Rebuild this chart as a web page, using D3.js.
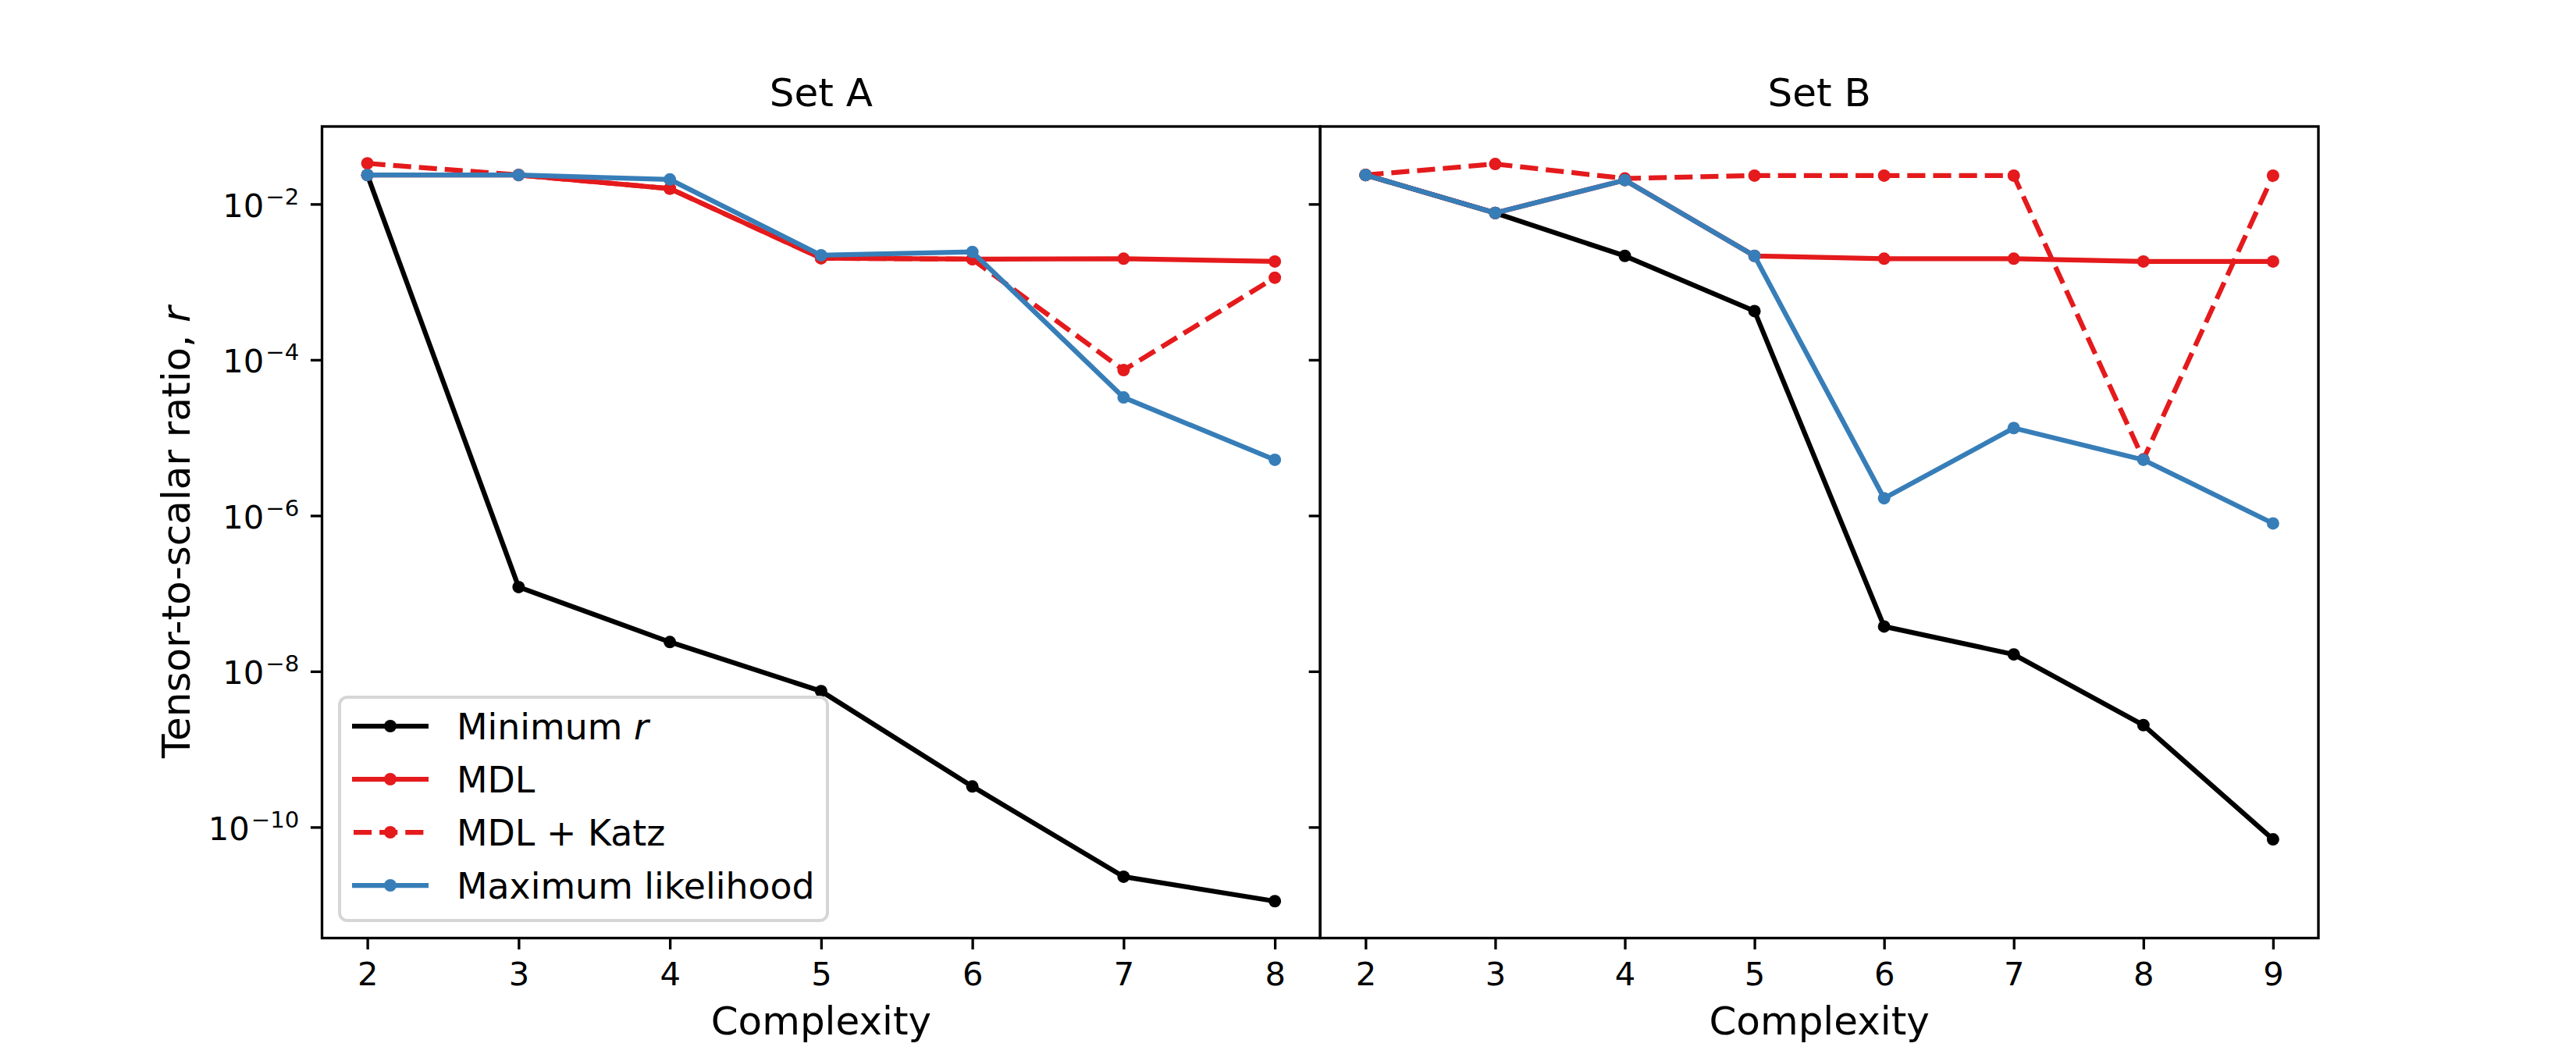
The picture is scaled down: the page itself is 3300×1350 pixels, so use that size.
<!DOCTYPE html>
<html>
<head>
<meta charset="utf-8">
<script src="https://cdn.jsdelivr.net/npm/d3@7"></script>
<style>
  html, body { margin: 0; padding: 0; background: #fff; }
  svg text { font-family: "DejaVu Sans", sans-serif; fill: #000; }
</style>
</head>
<body>
<div id="chart"></div>
<script>
// ── Data ──
const complexityA = [2, 3, 4, 5, 6, 7, 8];
const complexityB = [2, 3, 4, 5, 6, 7, 8, 9];

const minRA = [2.36e-2, 1.21e-7, 2.38e-8, 5.57e-9, 3.33e-10, 2.31e-11, 1.12e-11];
const mdlA = [2.36e-2, 2.36e-2, 1.58e-2, 2.02e-3, 1.96e-3, 1.99e-3, 1.83e-3];
const katzA = [3.33e-2, 2.36e-2, 1.58e-2, 2.02e-3, 1.96e-3, 7.38e-5, 1.135e-3];
const mlA = [2.36e-2, 2.36e-2, 2.07e-2, 2.2e-3, 2.43e-3, 3.29e-5, 5.2e-6];

const minRB = [2.36e-2, 7.69e-3, 2.16e-3, 4.23e-4, 3.77e-8, 1.65e-8, 2.04e-9, 6.97e-11];
const mdlB = [2.36e-2, 7.69e-3, 2.03e-2, 2.16e-3, 1.99e-3, 1.99e-3, 1.83e-3, 1.83e-3];
const katzB = [2.36e-2, 3.27e-2, 2.13e-2, 2.32e-2, 2.32e-2, 2.32e-2, 5.28e-6, 2.32e-2];
const mlB = [2.36e-2, 7.69e-3, 2.03e-2, 2.16e-3, 1.67e-6, 1.33e-5, 5.2e-6, 7.94e-7];

const seriesLabels = ["Minimum", "MDL", "MDL + Katz", "Maximum likelihood"];
const panelTitles = ["Set A", "Set B"];
const yTickExps = [-2, -4, -6, -8, -10];

// ── Styles ──
const PT = 300 / 72;
const STYLE = [
  { color: "#000000", dash: null },
  { color: "#e41a1c", dash: null },
  { color: "#e41a1c", dash: [3.7 * 1.5 * PT, 1.6 * 1.5 * PT].join(",") },
  { color: "#377eb8", dash: null },
];

const W = 3300, H = 1350;
const M = { l: 412.5, r: 2970, t: 162, b: 1201.5 };
const panelW = (M.r - M.l) / 2;
const LW = 1.5 * PT;
const DOT = 8;
const TICK_FS = 10 * PT, LABEL_FS = 12 * PT, LEG_FS = 11 * PT;

const panels = [
  { x: complexityA, series: [minRA, mdlA, katzA, mlA] },
  { x: complexityB, series: [minRB, mdlB, katzB, mlB] },
];

const svg = d3.select("#chart").append("svg")
  .attr("width", W).attr("height", H)
  .attr("viewBox", `0 0 ${W} ${H}`);
svg.append("rect").attr("width", W).attr("height", H).attr("fill", "#fff");

// shared log y, 5% margins in log space like matplotlib
const allVals = panels.flatMap((p) => p.series.flat());
const lo = Math.log10(d3.min(allVals)), hi = Math.log10(d3.max(allVals));
const padY = (hi - lo) * 0.05;
const y = d3.scaleLog()
  .domain([Math.pow(10, lo - padY), Math.pow(10, hi + padY)])
  .range([M.b, M.t]);

panels.forEach((p, i) => {
  const x0 = M.l + i * panelW;
  const [xa, xb] = d3.extent(p.x);
  const padX = (xb - xa) * 0.05;
  const x = d3.scaleLinear().domain([xa - padX, xb + padX]).range([x0, x0 + panelW]);

  const g = svg.append("g");

  // lines + markers
  const line = d3.line().x((d) => x(d[0])).y((d) => y(d[1]));
  p.series.forEach((vals, k) => {
    const pts = p.x.map((c, j) => [c, vals[j]]);
    const st = STYLE[k];
    g.append("path")
      .attr("d", line(pts))
      .attr("fill", "none")
      .attr("stroke", st.color)
      .attr("stroke-width", LW)
      .attr("stroke-linejoin", "round")
      .attr("stroke-linecap", st.dash ? "butt" : "square")
      .attr("stroke-dasharray", st.dash);
    g.selectAll(null).data(pts).enter().append("circle")
      .attr("cx", (d) => x(d[0]))
      .attr("cy", (d) => y(d[1]))
      .attr("r", DOT)
      .attr("fill", st.color);
  });

  // x axis
  const xAxisG = g.append("g").attr("transform", `translate(0,${M.b})`)
    .call(d3.axisBottom(x).tickValues(p.x).tickFormat(d3.format("d"))
      .tickSize(3.5 * PT).tickSizeOuter(0));
  xAxisG.select(".domain").remove();
  xAxisG.selectAll("line").attr("stroke", "#000").attr("stroke-width", 0.8 * PT);
  xAxisG.selectAll("text")
    .attr("y", 60.5).attr("dy", 0)
    .style("font-size", TICK_FS + "px")
    .style("font-family", "DejaVu Sans");

  // y axis ticks
  const yAxisG = g.append("g").attr("transform", `translate(${x0},0)`)
    .call(d3.axisLeft(y).tickValues(yTickExps.map((e) => Math.pow(10, e)))
      .tickFormat("").tickSize(3.5 * PT).tickSizeOuter(0));
  yAxisG.select(".domain").remove();
  yAxisG.selectAll("line").attr("stroke", "#000").attr("stroke-width", 0.8 * PT);

  if (i === 0) {
    yTickExps.forEach((e) => {
      const t = g.append("text")
        .attr("x", x0 - 3.5 * PT - 3.5 * PT)
        .attr("y", y(Math.pow(10, e)) + 16.5)
        .attr("text-anchor", "end")
        .style("font-size", TICK_FS + "px");
      t.append("tspan").text("10");
      t.append("tspan")
        .attr("dx", 2)
        .attr("dy", -16)
        .style("font-size", TICK_FS * 0.7 + "px")
        .text("\u2212" + Math.abs(e));
    });
  }

  // frame
  g.append("rect")
    .attr("x", x0).attr("y", M.t)
    .attr("width", panelW).attr("height", M.b - M.t)
    .attr("fill", "none").attr("stroke", "#000").attr("stroke-width", 0.8 * PT);

  // title + x label
  g.append("text")
    .attr("x", x0 + panelW / 2).attr("y", 136)
    .attr("text-anchor", "middle")
    .style("font-size", LABEL_FS + "px")
    .text(panelTitles[i]);
  g.append("text")
    .attr("x", x0 + panelW / 2).attr("y", 1325)
    .attr("text-anchor", "middle")
    .style("font-size", LABEL_FS + "px")
    .text("Complexity");
});

// y label
const yl = svg.append("text")
  .attr("transform", `translate(243,${(M.t + M.b) / 2}) rotate(-90)`)
  .attr("text-anchor", "middle")
  .style("font-size", LABEL_FS + "px");
yl.append("tspan").text("Tensor-to-scalar ratio, ");
yl.append("tspan").style("font-style", "italic").text("r");

// ── Legend (lower left of Set A) ──
const leg = svg.append("g");
const legBox = { x: 435, y: 893, w: 625, h: 286 };
leg.append("rect")
  .attr("x", legBox.x).attr("y", legBox.y)
  .attr("width", legBox.w).attr("height", legBox.h)
  .attr("rx", 10).attr("ry", 10)
  .attr("fill", "#fff").attr("fill-opacity", 0.8)
  .attr("stroke", "#d6d6d6").attr("stroke-width", 4);

seriesLabels.forEach((lab, k) => {
  const cy = 930 + k * 68;
  const st = STYLE[k];
  leg.append("line")
    .attr("x1", 451).attr("x2", 549).attr("y1", cy).attr("y2", cy)
    .attr("stroke", st.color).attr("stroke-width", LW)
    .attr("stroke-dasharray", st.dash)
    .attr("stroke-dashoffset", st.dash ? -2 : null);
  leg.append("circle").attr("cx", 500).attr("cy", cy).attr("r", DOT).attr("fill", st.color);
  const t = leg.append("text")
    .attr("x", 585).attr("y", cy + 17)
    .style("font-size", LEG_FS + "px")
    .text(lab);
  if (k === 0) t.append("tspan").style("font-style", "italic").text(" r");
});
</script>
</body>
</html>
